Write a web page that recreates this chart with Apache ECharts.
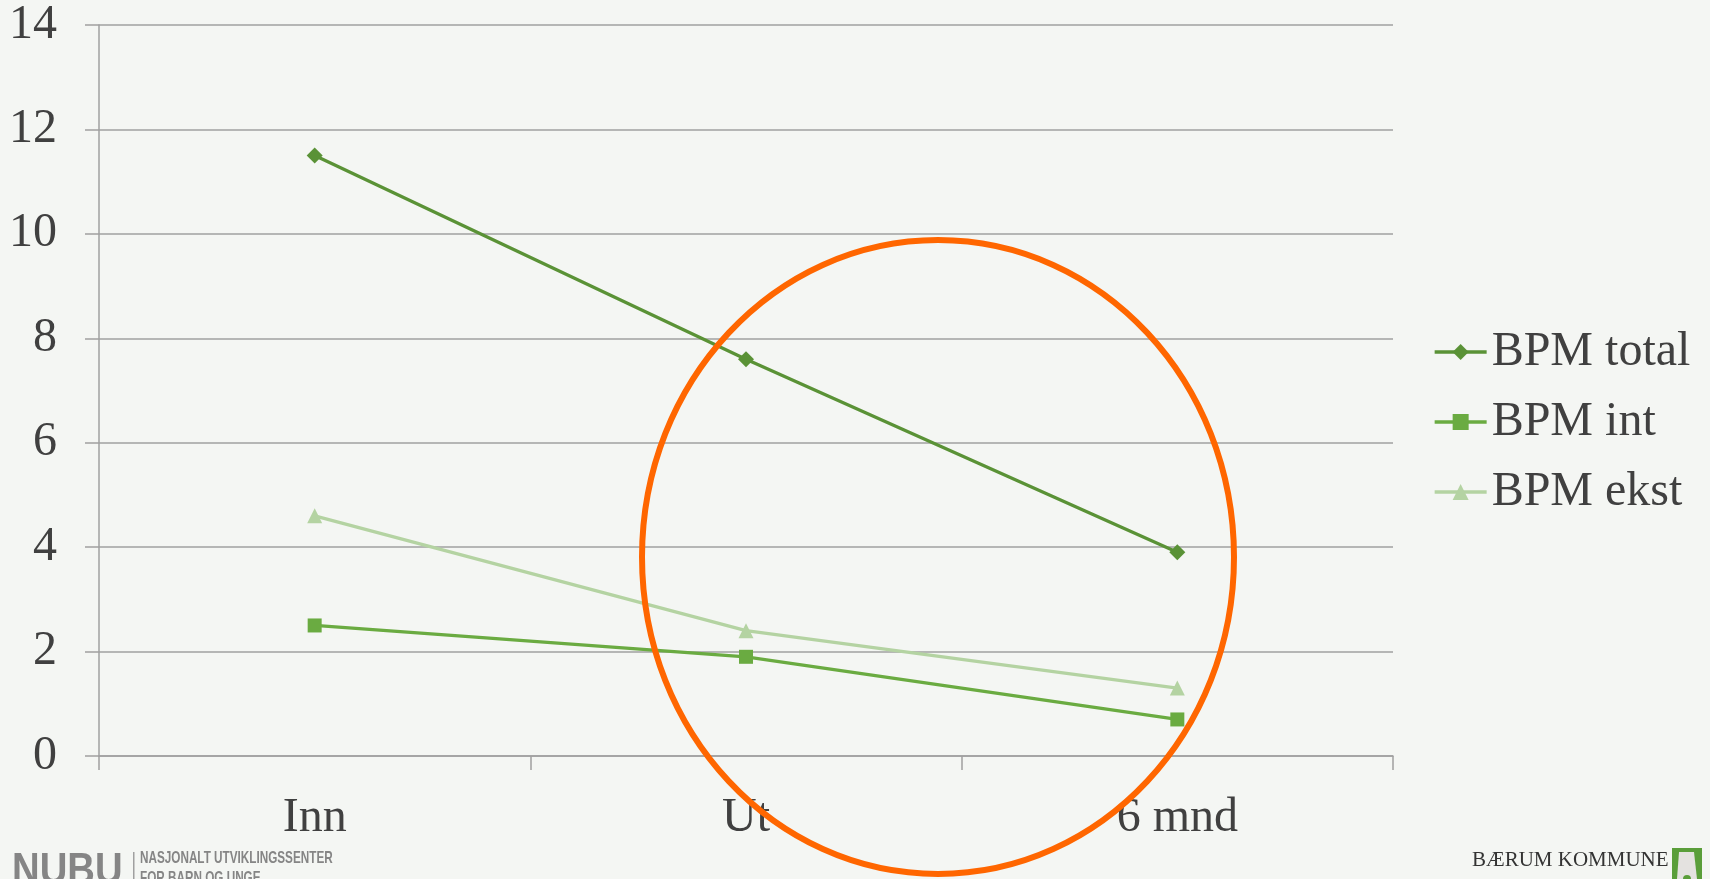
<!DOCTYPE html>
<html>
<head>
<meta charset="utf-8">
<script src="https://cdn.jsdelivr.net/npm/echarts@6/dist/echarts.min.js"></script>
<style>
html,body{margin:0;padding:0;background:#f4f6f3;}
#c{width:1710px;height:879px;}
</style>
</head>
<body>
<div id="c"></div>
<script>
var categories = ['Inn', 'Ut', '6 mnd'];
var bpmTotal = [11.5, 7.6, 3.9];
var bpmInt = [2.5, 1.9, 0.7];
var bpmEkst = [4.6, 2.4, 1.3];
var seriesNames = ['BPM total', 'BPM int', 'BPM ekst'];

var font = 'Liberation Serif, Times New Roman, serif';
var sans = 'Liberation Sans, Arial, sans-serif';
var chart = echarts.init(document.getElementById('c'));
chart.setOption({
  backgroundColor: '#f4f6f3',
  animation: false,
  grid: {left: 99, right: 317, top: 25, bottom: 123},
  legend: {
    orient: 'vertical',
    left: 1428,
    top: 323,
    itemWidth: 52,
    itemHeight: 20,
    itemGap: 22,
    lineStyle: {width: 3.3},
    textStyle: {fontFamily: font, fontSize: 48, color: '#404040', lineHeight: 48},
    data: seriesNames
  },
  xAxis: {
    type: 'category',
    data: categories,
    boundaryGap: true,
    axisLine: {lineStyle: {color: '#a0a0a0', width: 1.5}},
    axisTick: {show: true, alignWithLabel: false, interval: 0, length: 14, lineStyle: {color: '#a0a0a0', width: 1.5}},
    axisLabel: {fontFamily: font, fontSize: 48, color: '#404040', margin: 38}
  },
  yAxis: {
    type: 'value',
    min: 0, max: 14, interval: 2,
    axisLine: {show: true, lineStyle: {color: '#a0a0a0', width: 1.5}},
    axisTick: {show: true, length: 14, lineStyle: {color: '#a0a0a0', width: 1.5}},
    splitLine: {lineStyle: {color: '#a0a0a0', width: 1.5}},
    axisLabel: {fontFamily: font, fontSize: 48, color: '#404040', margin: 42}
  },
  series: [
    {name: seriesNames[0], type: 'line', data: bpmTotal, symbol: 'diamond', symbolSize: 16,
     lineStyle: {color: '#5a9236', width: 3.3}, itemStyle: {color: '#5a9236'}},
    {name: seriesNames[1], type: 'line', data: bpmInt, symbol: 'rect', symbolSize: 14,
     lineStyle: {color: '#6aab41', width: 3.3}, itemStyle: {color: '#6aab41'}},
    {name: seriesNames[2], type: 'line', data: bpmEkst, symbol: 'triangle', symbolSize: 15,
     lineStyle: {color: '#b4d3a2', width: 3.3}, itemStyle: {color: '#b4d3a2'}}
  ],
  graphic: [
    {type: 'ellipse', z: 100, shape: {cx: 938, cy: 557, rx: 296, ry: 317},
     style: {fill: 'none', stroke: '#ff6600', lineWidth: 6}},
    {type: 'text', x: 12, y: 850, scaleX: 0.87, z: 50,
     style: {text: 'NUBU', font: 'bold 44px ' + sans, fill: '#858585'}},
    {type: 'rect', z: 50, shape: {x: 133, y: 852, width: 1.5, height: 30}, style: {fill: '#a0a0a0'}},
    {type: 'text', x: 140, y: 850, scaleX: 0.69, z: 50,
     style: {text: 'NASJONALT UTVIKLINGSSENTER', font: 'bold 17px ' + sans, fill: '#858585'}},
    {type: 'text', x: 140, y: 870, scaleX: 0.69, z: 50,
     style: {text: 'FOR BARN OG UNGE', font: 'bold 17px ' + sans, fill: '#858585'}},
    {type: 'text', x: 1472, y: 850, z: 50,
     style: {text: 'BÆRUM KOMMUNE', font: '21px ' + font, fill: '#333333'}},
    {type: 'rect', z: 50, shape: {x: 1672, y: 848, width: 30, height: 40}, style: {fill: '#5a9e3a'}},
    {type: 'polygon', z: 51, shape: {points: [[1679, 852], [1694, 852], [1697, 879], [1677, 879]]}, style: {fill: '#e4e2e0'}},
    {type: 'circle', z: 52, shape: {cx: 1687, cy: 879, r: 4}, style: {fill: '#5a9e3a'}}
  ]
});
</script>
</body>
</html>
